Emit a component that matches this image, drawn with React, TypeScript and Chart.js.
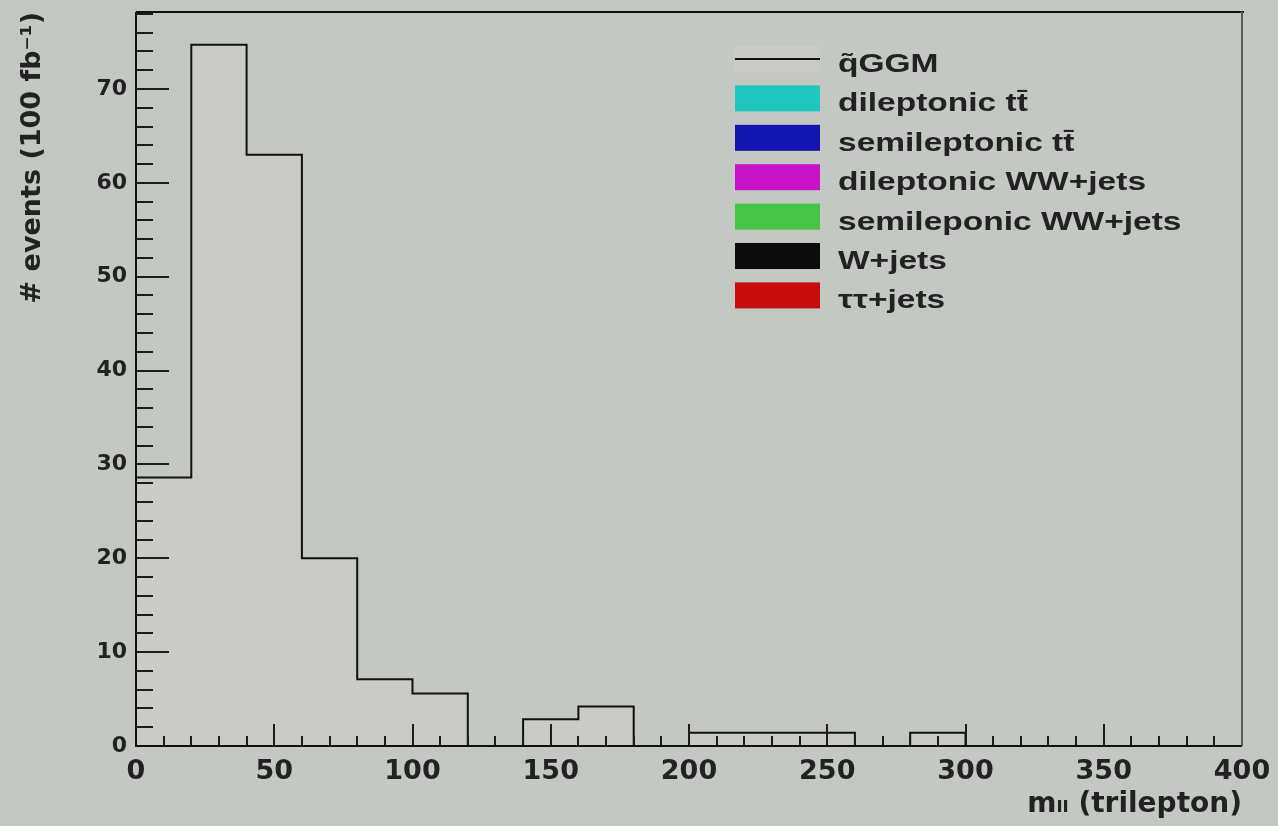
import React, { useEffect, useRef } from "react";
import { Chart, registerables } from "chart.js";

Chart.register(...registerables);

// ---- data ----
const binEdges = [0, 20, 40, 60, 80, 100, 120, 140, 160, 180, 200, 220, 240, 260, 280, 300, 320, 340, 360, 380, 400];
const qGGMCounts = [28.6, 74.7, 63.0, 20.0, 7.1, 5.6, 0, 2.85, 4.2, 0, 1.42, 1.42, 1.42, 0, 1.42, 0, 0, 0, 0, 0];

const legendLabels = [
  "q\u0303GGM",
  "dileptonic tt\u0304",
  "semileptonic tt\u0304",
  "dileptonic WW+jets",
  "semileponic WW+jets",
  "W+jets",
  "\u03c4\u03c4+jets",
];
const legendColors = [null, "#1ec6bd", "#1414b0", "#c814c6", "#46c446", "#0c0c0c", "#c60c0c"];

const xTitle = "m\u2097\u2097 (trilepton)";
const yTitle = "# events (100 fb\u207b\u00b9)";

// ---- style ----
const BG = "#c3c8c2";
const HIST_FILL = "#cacac6";
const INK = "#1c1c1c";

const framePlugin = {
  id: "rootFrame",
  beforeDraw(chart: any) {
    const ctx = chart.ctx;
    ctx.save();
    ctx.fillStyle = BG;
    ctx.fillRect(0, 0, chart.width, chart.height);
    ctx.restore();
  },
  afterDraw(chart: any) {
    const ctx = chart.ctx;
    const xs = chart.scales.x;
    const ys = chart.scales.y;
    const { left, right, top, bottom } = chart.chartArea;
    ctx.save();
    // ticks (inward)
    ctx.strokeStyle = INK;
    ctx.lineWidth = 2;
    for (let v = xs.min; v <= xs.max + 1e-9; v += 10) {
      const px = Math.round(xs.getPixelForValue(v));
      const len = Math.abs(v % 50) < 1e-9 ? 22 : 10;
      ctx.beginPath();
      ctx.moveTo(px, bottom);
      ctx.lineTo(px, bottom - len);
      ctx.stroke();
    }
    for (let v = ys.min; v <= ys.max + 1e-9; v += 2) {
      const py = Math.round(ys.getPixelForValue(v));
      const len = Math.abs(v % 10) < 1e-9 ? 33 : 17;
      ctx.beginPath();
      ctx.moveTo(left, py);
      ctx.lineTo(left + len, py);
      ctx.stroke();
    }
    // frame
    ctx.strokeStyle = "#111";
    ctx.lineWidth = 2;
    ctx.beginPath();
    ctx.moveTo(left, top);
    ctx.lineTo(left, bottom);
    ctx.lineTo(right, bottom);
    ctx.stroke();
    ctx.beginPath();
    ctx.moveTo(left, top);
    ctx.lineTo(right + 2, top);
    ctx.stroke();
    ctx.strokeStyle = "#5a5e5a";
    ctx.beginPath();
    ctx.moveTo(right, top);
    ctx.lineTo(right, bottom);
    ctx.stroke();

    // legend
    const lx = 735;
    const bw = 85;
    const bh = 26;
    const ty = 59;
    const step = 39.4;
    const tx = 838;
    legendLabels.forEach((label, i) => {
      const cy = ty + i * step;
      const col = legendColors[i];
      if (col) {
        ctx.fillStyle = col;
        ctx.fillRect(lx, cy - bh / 2, bw, bh);
      } else {
        ctx.fillStyle = HIST_FILL;
        ctx.fillRect(lx, cy - bh / 2, bw, bh);
        ctx.strokeStyle = "#111";
        ctx.lineWidth = 2;
        ctx.beginPath();
        ctx.moveTo(lx, cy);
        ctx.lineTo(lx + bw, cy);
        ctx.stroke();
      }
      ctx.save();
      ctx.translate(tx, cy + 13);
      ctx.scale(1.34, 1);
      ctx.fillStyle = "#222";
      ctx.font = "bold 25px 'Liberation Sans', Arial, sans-serif";
      ctx.textBaseline = "alphabetic";
      ctx.textAlign = "left";
      ctx.fillText(label, 0, 0);
      ctx.restore();
    });
    ctx.restore();
  },
};

export default function App() {
  const ref = useRef<HTMLCanvasElement | null>(null);

  useEffect(() => {
    if (!ref.current) return;
    // step outline points: each bin's low edge with its count, closed at the last edge
    const steps = binEdges.map((e, i) => ({
      x: e,
      y: i < qGGMCounts.length ? qGGMCounts[i] : qGGMCounts[qGGMCounts.length - 1],
    }));

    const tickFont = (size: number) => ({ family: "'DejaVu Sans', sans-serif", weight: "bold" as const, size });

    const chart = new Chart(ref.current, {
      type: "line",
      data: {
        datasets: [
          {
            label: "qGGM",
            data: steps,
            stepped: "before",
            borderColor: "#111",
            borderWidth: 2,
            backgroundColor: HIST_FILL,
            pointRadius: 0,
            fill: "origin",
          } as any,
        ],
      },
      options: {
        responsive: false,
        animation: false,
        layout: { padding: { left: 0, top: 12, right: 36, bottom: 0 } },
        plugins: {
          legend: { display: false },
          tooltip: { enabled: false },
        },
        scales: {
          x: {
            type: "linear",
            min: 0,
            max: 400,
            offset: false,
            grid: { display: false, drawTicks: false },
            border: { display: false },
            ticks: {
              stepSize: 10,
              autoSkip: false,
              maxRotation: 0,
              minRotation: 0,
              padding: 10,
              color: "#222",
              font: tickFont(27),
              callback: (v: any) => (Math.abs(Number(v) % 50) < 1e-9 ? String(v) : ""),
            },
            title: {
              display: true,
              text: xTitle,
              align: "end",
              color: "#222",
              font: tickFont(28),
              padding: { top: 0, bottom: 4 },
            },
            afterFit: (s: any) => {
              s.height = 80;
              s.paddingLeft = 0;
              s.paddingRight = 0;
            },
          },
          y: {
            type: "linear",
            min: 0,
            max: 78.2,
            grid: { display: false, drawTicks: false },
            border: { display: false },
            ticks: {
              stepSize: 2,
              autoSkip: false,
              padding: 9,
              color: "#222",
              font: tickFont(22),
              callback: (v: any) => (Math.abs(Number(v) % 10) < 1e-9 ? String(v) : ""),
            },
            title: {
              display: true,
              text: yTitle,
              align: "end",
              color: "#222",
              font: tickFont(27),
              padding: { top: 17, bottom: 0 },
            },
            afterFit: (s: any) => {
              s.width = 136;
              s.paddingTop = 0;
              s.paddingBottom = 0;
            },
          },
        },
      },
      plugins: [framePlugin],
    });
    return () => chart.destroy();
  }, []);

  return (
    <div style={{ position: "fixed", left: 0, top: 0, width: 1278, height: 826, background: BG }}>
      <canvas ref={ref} width={1278} height={826} style={{ display: "block" }} />
    </div>
  );
}
